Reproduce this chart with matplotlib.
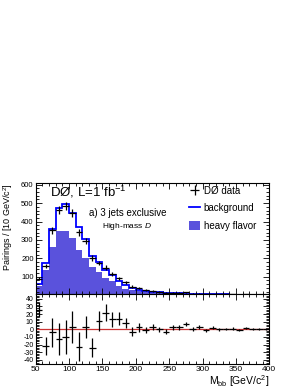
import numpy as np
import matplotlib
matplotlib.use("Agg")
import matplotlib.pyplot as plt
from matplotlib.ticker import MultipleLocator

plt.rcParams['font.family'] = ['Liberation Sans', 'DejaVu Sans']
plt.rcParams['mathtext.fontset'] = 'custom'
plt.rcParams['mathtext.rm'] = 'Liberation Sans'
plt.rcParams['mathtext.it'] = 'Liberation Sans:italic'
plt.rcParams['axes.unicode_minus'] = False

# bin edges of M_bb [GeV/c^2]
edges = np.arange(50, 401, 10)

# background model, heavy flavour part and data (pairings / 10 GeV)
background = [62, 175, 361, 476, 496, 448, 370, 308, 215, 180, 138, 110, 76, 53, 38,
              31, 25, 20, 16, 13, 11, 10, 8, 7, 6, 5, 5, 4, 4, 3, 3, 3, 2, 2, 2]
heavy_flavor = [50, 135, 263, 347, 350, 310, 248, 204, 155, 124, 95, 75, 52, 36, 26,
                21, 17, 14, 11, 9, 8, 7, 6, 5, 4, 4, 3, 3, 3, 2, 2, 2, 1, 1, 1]
data = [90, 159, 352, 462, 486, 445, 342, 295, 202, 175, 150, 116, 91, 70, 47,
        40, 30, 22, 17, 12, 13, 13, 15, 7, 8, 4, 6, 4, 4, 4, 3, 5, 2, 2, 2]

# residuals (data - background) for the lower panel
residual = [26, -22, -4, -13, -10, 3, -23, 3, -24, 11, 22, 13, 14, 8, -3,
            2.5, -1, 3, 0, -3, 2.6, 2.6, 7, 0.5, 3, -1.5, 2, 0, 0, 1, -0.5, 2, 0, 0, 0]
residual_err = [10, 12, 19, 21, 22, 21, 19, 15, 13, 13, 11, 10, 9, 6.5, 6,
                5.5, 4.5, 4, 3.5, 3, 3, 3, 3, 2.5, 2, 2, 2, 2, 1.5, 1.5, 1.5, 1.5, 1.2, 1.2, 1.2]

centers = 0.5 * (edges[:-1] + edges[1:])
data = np.array(data)

fig = plt.figure(figsize=(3.0, 3.88), dpi=100)
ax1 = fig.add_axes([0.119, 0.2415, 0.7787, 0.2861])
ax2 = fig.add_axes([0.119, 0.0611, 0.7787, 0.1804])

hf_color = '#5a52dc'

# upper panel
h_hf = ax1.stairs(heavy_flavor, edges, fill=True, color=hf_color, label='heavy flavor')
h_bkg = ax1.stairs(background, edges, color='#0000ff', lw=1.3, label='background')
h_data = ax1.errorbar(centers, data, xerr=5, yerr=np.sqrt(data), fmt='none',
                      ecolor='black', elinewidth=0.9, label='DØ data')

ax1.set_xlim(50, 400)
ax1.set_ylim(5, 608)
ax1.set_xticklabels([])

ax1.text(0.06, 0.92, 'DØ, L=1 fb$^{-1}$', transform=ax1.transAxes, fontsize=9.5,
         va='center', ha='left')
ax1.text(0.228, 0.735, 'a) 3 jets exclusive', transform=ax1.transAxes, fontsize=7,
         va='center', ha='left')
ax1.text(0.285, 0.61, 'High-mass $\\mathit{D}$', transform=ax1.transAxes, fontsize=6,
         va='center', ha='left')

leg = ax1.legend(handles=[h_data, h_bkg, h_hf], loc='upper left',
                 bbox_to_anchor=(0.655, 0.975), frameon=False, fontsize=7,
                 borderpad=0, borderaxespad=0, handlelength=1.2,
                 handletextpad=0.35, labelspacing=0.75, handleheight=1.0)

# lower panel
ax2.axhline(0, color='#cc3333', lw=0.9)
ax2.errorbar(centers, residual, xerr=5, yerr=residual_err, fmt='none',
             ecolor='black', elinewidth=0.9)
ax2.set_xlim(50, 400)
ax2.set_ylim(-46, 46)

for ax in (ax1, ax2):
    ax.xaxis.set_major_locator(MultipleLocator(50))
    ax.xaxis.set_minor_locator(MultipleLocator(10))
    ax.tick_params(which='both', direction='in', top=True, right=True,
                   labelsize=5.5, width=0.6, pad=1.5)
    ax.tick_params(which='major', length=4)
    ax.tick_params(which='minor', length=2)
    for s in ax.spines.values():
        s.set_linewidth(0.8)

ax1.yaxis.set_major_locator(MultipleLocator(100))
ax1.yaxis.set_minor_locator(MultipleLocator(20))
ax2.yaxis.set_major_locator(MultipleLocator(10))
ax2.yaxis.set_minor_locator(MultipleLocator(2))
ax2.tick_params(axis='y', labelsize=5)
ax2.tick_params(axis='x', labelsize=6, pad=1)

fig.text(0.027, 0.527, 'Pairings / [10 GeV/c$^{2}$]', rotation=90,
         ha='center', va='top', fontsize=6.5)
fig.text(0.897, 0.017, 'M$_{\\mathrm{bb}}$ [GeV/c$^{2}$]', ha='right', va='center',
         fontsize=7.5)

fig.savefig('out.png', dpi=100)
